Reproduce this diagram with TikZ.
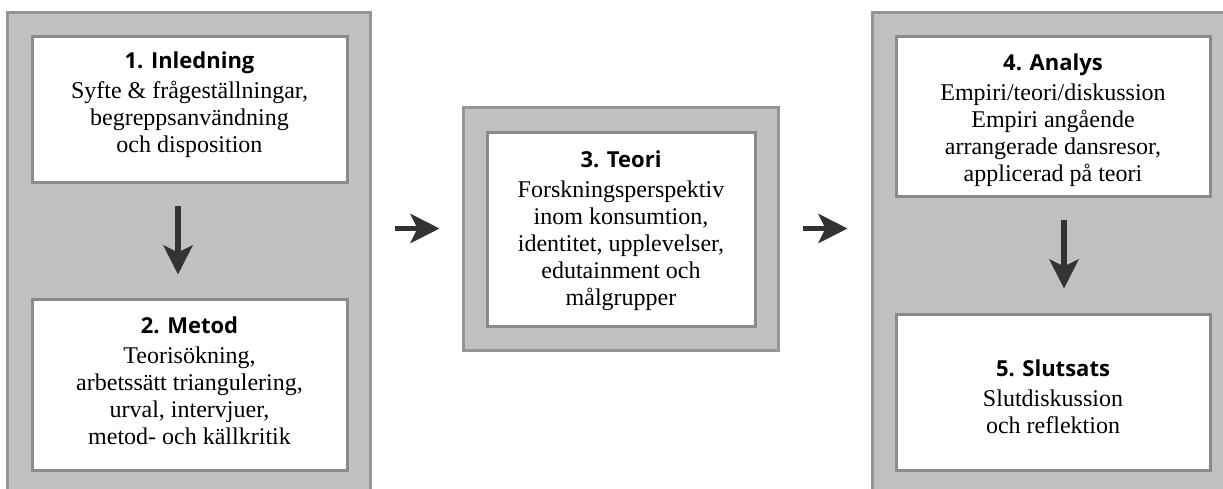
\documentclass[tikz,border=0pt]{standalone}
\usepackage{fontspec}
\setmainfont{Liberation Serif}
\newfontfamily\headfont{Open Sans}
\usetikzlibrary{arrows.meta,calc}
\definecolor{panelfill}{HTML}{C0C0C0}
\definecolor{panelline}{HTML}{959595}
\definecolor{boxline}{HTML}{8A8A8A}
\definecolor{arrowc}{HTML}{333333}
\tikzset{
  panel/.style={draw=panelline, fill=panelfill, line width=3pt, inner sep=0pt, rectangle},
  box/.style={draw=boxline, fill=white, line width=3pt, inner sep=0pt, rectangle},
  boxtext/.style={inner sep=0pt, align=center, font=\fontsize{24}{27}\selectfont},
  arr/.style={draw=arrowc, line width=5.5pt, -{Stealth[length=29pt,width=29pt,inset=7pt]}},
}
\newcommand{\hd}[1]{{\headfont\bfseries\fontsize{22}{28}\selectfont #1}\\[3pt]}
\begin{document}
\begin{tikzpicture}[x=1pt,y=-1pt]
\useasboundingbox (0,0) rectangle (1223,488);
\clip (0,0) rectangle (1223,488);
\fill[white] (0,0) rectangle (1223,488);
% panels
\node[panel, minimum width=363pt, minimum height=520pt] (p1) at (188.5,272) {};
\node[panel, minimum width=315pt, minimum height=243pt] (p3) at (620.5,228.5) {};
\node[panel, minimum width=380pt, minimum height=520pt] (p2) at (1062,272) {};
% boxes
\node[box, minimum width=315pt, minimum height=146pt] (b1) at (189.5,109) {};
\node[box, minimum width=315pt, minimum height=171pt] (b2) at (189.5,384.5) {};
\node[box, minimum width=268pt, minimum height=194pt] (b3) at (621,229) {};
\node[box, minimum width=314pt, minimum height=160pt] (b4) at (1053,116) {};
\node[box, minimum width=314pt, minimum height=156pt] (b5) at (1053,392) {};
% texts
\node[boxtext] (t1) at ([yshift=4pt]b1.center)
  {\hd{1. Inledning}Syfte \& frågeställningar,\\begreppsanvändning\\och disposition};
\node[boxtext] (t2) at ([yshift=4pt]b2.center)
  {\hd{2. Metod}Teorisökning,\\arbetssätt triangulering,\\urval, intervjuer,\\metod- och källkritik};
\node[boxtext] (t3) at ([yshift=-2pt]b3.center)
  {\hd{3. Teori}Forskningsperspektiv\\inom konsumtion,\\identitet, upplevelser,\\edutainment och\\målgrupper};
\node[boxtext] (t4) at ([yshift=-4pt]b4.center)
  {\hd{4. Analys}Empiri/teori/diskussion\\Empiri angående\\arrangerade dansresor,\\applicerad på teori};
\node[boxtext] (t5) at ([yshift=-5pt]b5.center)
  {\hd{5. Slutsats}Slutdiskussion\\och reflektion};
% arrows
\draw[arr, shorten <=22pt, shorten >=23pt] ([xshift=-11.5pt]b1.south) -- ([xshift=-11.5pt]b2.north);
\draw[arr, shorten <=22pt, shorten >=24pt] ([xshift=11pt]b4.south) -- ([xshift=11pt]b5.north);
\draw[arr, shorten <=23pt, shorten >=22pt] (p1.east |- p3.west) -- (p3.west);
\draw[arr, shorten <=23pt, shorten >=23pt] (p3.east) -- (p2.west |- p3.east);
\end{tikzpicture}
\end{document}
